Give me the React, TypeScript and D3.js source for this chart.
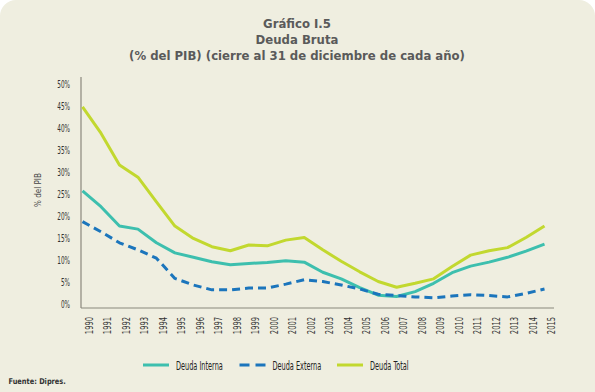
import React from "react";
import * as d3 from "d3";

const years = [1990,1991,1992,1993,1994,1995,1996,1997,1998,1999,2000,2001,2002,2003,2004,2005,2006,2007,2008,2009,2010,2011,2012,2013,2014,2015];
const deudaInterna = [25.6,22.0,17.6,16.9,13.8,11.5,10.5,9.5,8.8,9.1,9.3,9.7,9.4,7.1,5.6,3.6,1.9,1.6,2.7,4.6,7.0,8.5,9.4,10.5,11.9,13.5];
const deudaExterna = [18.6,16.3,13.8,12.2,10.3,5.7,4.2,3.1,3.1,3.5,3.5,4.4,5.4,5.0,4.2,3.3,2.1,1.8,1.5,1.3,1.7,2.0,1.8,1.5,2.3,3.3];
const deudaTotal = [44.7,38.7,31.5,28.7,23.1,17.6,14.8,12.9,12.0,13.3,13.1,14.4,15.0,12.2,9.6,7.2,5.0,3.7,4.6,5.6,8.4,11.0,12.0,12.7,15.0,17.6];
const yTicks = [0,5,10,15,20,25,30,35,40,45,50];

const W = 595, H = 392;
const BG = "#efeee0";
const C_INT = "#3dbfae";
const C_EXT = "#1b75bc";
const C_TOT = "#c2d82f";
const FONT = "'DejaVu Sans Condensed', 'DejaVu Sans', sans-serif";

export default function App() {
  const x = d3.scalePoint<number>().domain(years).range([82.5, 544.5]);
  const y = d3.scaleLinear().domain([0, 50]).range([303.5, 83.5]);
  const line = d3.line<number>().x((_, i) => x(years[i]) as number).y((d) => y(d)).curve(d3.curveLinear);

  const series = [
    { name: "Deuda Interna", data: deudaInterna, color: C_INT, dash: undefined as string | undefined },
    { name: "Deuda Externa", data: deudaExterna, color: C_EXT, dash: "8,5" },
    { name: "Deuda Total", data: deudaTotal, color: C_TOT, dash: undefined },
  ];
  const legendX = [143, 239.5, 337];

  return (
    <svg width={W} height={H} style={{ position: "absolute", left: 0, top: 0 }} xmlns="http://www.w3.org/2000/svg">
      <rect x={0} y={0} width={W} height={H} fill="#ffffff" />
      <rect x={0} y={0} width={W} height={H + 20} rx={16} fill={BG} />
      <g fill="#5a5a5a" fontFamily={FONT} fontWeight="bold" fontSize={13} textAnchor="middle">
        <text x={297} y={28}>Gráfico I.5</text>
        <text x={297} y={44}>Deuda Bruta</text>
        <text x={297} y={60}>(% del PIB) (cierre al 31 de diciembre de cada año)</text>
      </g>
      {/* axes */}
      <line x1={81} x2={81} y1={77} y2={308} stroke="#8a887c" strokeWidth={1.2} />
      <line x1={81} x2={554} y1={308} y2={308} stroke="#8a887c" strokeWidth={1.2} />
      <g fontFamily={FONT} fontSize={11} fill="#333" textAnchor="end">
        {yTicks.map((t) => (
          <text key={t} x={0} y={0} transform={`translate(70,${y(t) + 4}) scale(0.58,1)`}>{t}%</text>
        ))}
      </g>
      <text x={0} y={0} transform={`translate(41,190) rotate(-90)`} fontFamily={FONT} fontSize={8} fill="#444" textAnchor="middle">% del PIB</text>
      <g fontFamily={FONT} fontSize={10} fill="#333">
        {years.map((yr) => {
          const cx = (x(yr) as number) + 7;
          return (
            <text key={yr} x={0} y={0} textAnchor="end" transform={`translate(${cx + 3.5},${317}) rotate(-90) scale(0.75,1)`}>{yr}</text>
          );
        })}
      </g>
      {series.map((s) => (
        <path key={s.name} d={line(s.data) || ""} fill="none" stroke={s.color} strokeWidth={3} strokeDasharray={s.dash} strokeLinejoin="round" />
      ))}
      {series.map((s, i) => (
        <g key={s.name}>
          <line x1={legendX[i]} x2={legendX[i] + 26} y1={365} y2={365} stroke={s.color} strokeWidth={3} strokeDasharray={s.dash === undefined ? undefined : "10,6"} />
          <text x={0} y={0} fontFamily={FONT} fontSize={13} fill="#222" transform={`translate(${legendX[i] + 33},369.5) scale(0.56,1)`}>{s.name}</text>
        </g>
      ))}
      <text x={0} y={0} transform="translate(8.5,384) scale(0.92,1)" fontFamily={FONT} fontSize={8} fontWeight="bold" fill="#333">Fuente: Dipres.</text>
    </svg>
  );
}
